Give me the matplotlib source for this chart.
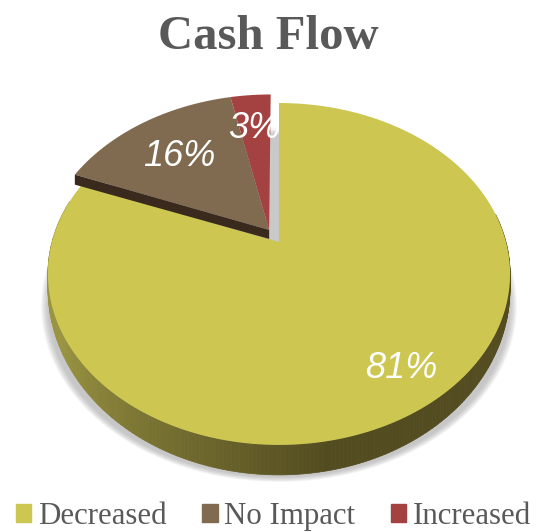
import numpy as np
import matplotlib
matplotlib.use('Agg')
import matplotlib.pyplot as plt
from matplotlib.patches import Patch
from matplotlib.path import Path
from matplotlib.transforms import Affine2D, Transform
from matplotlib.colors import to_rgb

# data
labels = ['Decreased', 'No Impact', 'Increased']
values = [81, 15.6, 3.4]  # slice sizes
pct_labels = ['81%', '16%', '3%']
colors = ['#cdc651', '#806b50', '#a44141']
title = 'Cash Flow'

plt.rcParams['font.family'] = ['Liberation Serif', 'DejaVu Serif']


# unit disc -> picture pixels, tilted so the far side looks smaller
class Tilt(Transform):
    input_dims = 2
    output_dims = 2
    is_affine = False
    has_inverse = False

    def transform_non_affine(self, values):
        values = np.asarray(values, dtype=float)
        u, v = values[:, 0], values[:, 1]
        w = 1 + 0.187 * v
        return np.column_stack([279 + 227 * u / w, (242 - 119.7 * v) / w])

    def transform_path_non_affine(self, path):
        # flatten the arcs at a big scale, otherwise they come out coarse
        big = Affine2D().scale(1000).transform_path(path)
        xy = np.vstack(big.to_polygons(closed_only=False)) / 1000
        return Path(self.transform_non_affine(xy))


def depth(v):
    return np.clip(10 - 20 * v, 10, 30)


fig = plt.figure(figsize=(5.45, 5.32), dpi=100)
ax = fig.add_axes([0, 0, 1, 1])
tilt = Tilt()

wedges, _ = ax.pie(values, colors=colors, startangle=90, counterclock=False)

ax.set_aspect('auto')
ax.set_xlim(0, 545)
ax.set_ylim(532, 0)
ax.set_axis_off()
to_px = tilt + ax.transData

# offset of the two pulled out slices
shift = (-0.044, 0.074)
wedges[1].set_center(shift)
wedges[2].set_center(shift)
for w in wedges:
    w.set_transform(to_px)
    w.set_zorder(5)
    w.set_linewidth(0)

# soft shadow under the rim
t = np.radians(np.linspace(0, 360, 200))
disc = tilt.transform_non_affine(np.column_stack([np.sin(t), np.cos(t)]))
cx, cy = 279, 274
for s in np.linspace(1.03, 1.0, 12):
    ax.fill(cx + (disc[:, 0] - cx) * s, cy + 32 + (disc[:, 1] - cy) * s,
            color='#909090', alpha=0.05, lw=0, zorder=1)

# rim of the big slice, shaded along the angle
end = 360 * values[0] / sum(values)
ang = np.radians(np.linspace(80, 285, 240))
c_light = np.array(to_rgb('#9a9442'))
c_dark = np.array(to_rgb('#534c20'))
for a0, a1 in zip(ang[:-1], ang[1:]):
    uv = np.array([[np.sin(a0), np.cos(a0)], [np.sin(a1), np.cos(a1)]])
    p = tilt.transform_non_affine(uv)
    d = depth(uv[:, 1])
    xs = [p[0, 0], p[1, 0], p[1, 0], p[0, 0]]
    ys = [p[0, 1], p[1, 1], p[1, 1] + d[1], p[0, 1] + d[0]]
    # dark up to just left of the front, lighter towards the left
    k = np.clip((np.degrees(a0) - 170) / 70, 0, 1)
    col = c_dark + (c_light - c_dark) * k
    ax.fill(xs, ys, color=col, ec=col, lw=0.5, zorder=2)

# walls at the cut
apex = tilt.transform_non_affine(np.array([shift]))[0]
a_left = np.radians(end)
edge = tilt.transform_non_affine(np.array([[shift[0] + np.sin(a_left), shift[1] + np.cos(a_left)]]))[0]
ax.fill([apex[0], edge[0], edge[0], apex[0]],
        [apex[1], edge[1], edge[1] + 10, apex[1] + 9],
        color='#3a2a1e', lw=0, zorder=6)
ax.fill([apex[0], 278, 278, apex[0]], [apex[1] + 9, 242, 150, 150], color='#c9c9c9', lw=0, zorder=4)
# grey fades out to white going up
for y0, a in zip(np.arange(126, 150, 2), np.linspace(0.05, 0.95, 12)):
    ax.fill([apex[0], 278, 278, apex[0]], [y0, y0, y0 + 2, y0 + 2], color='#c9c9c9', alpha=a, lw=0, zorder=4)

# value labels
spots = [(401, 369), (179, 156), (254, 128)]
for s, (x, y) in zip(pct_labels, spots):
    ax.text(x, y, s, color='white', fontsize=26, style='italic',
            family='Liberation Sans', ha='center', va='center', zorder=8)

ax.text(268.5, 37, title, color='#595959', fontsize=35, fontweight='bold',
        ha='center', va='center')

handles = [Patch(color=c) for c in colors]
ax.legend(handles, labels, loc='lower left', bbox_to_anchor=(16 / 545, 0.002), ncols=3,
          frameon=False, fontsize=22.2, labelcolor='#595959', handlelength=0.5,
          handleheight=0.5, handletextpad=0.22, columnspacing=1.15,
          borderpad=0, borderaxespad=0)

fig.savefig('out.png', dpi=100)
